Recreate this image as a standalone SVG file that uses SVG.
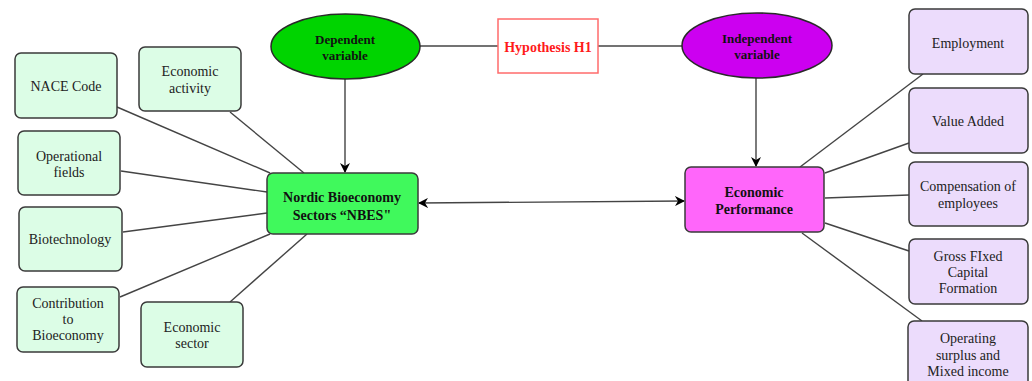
<svg xmlns="http://www.w3.org/2000/svg" width="1032" height="381" viewBox="0 0 1032 381">
<defs>
<style>
.lbox{fill:#dcfde6;stroke:#3a3a3a;stroke-width:1.5}
.rbox{fill:#ecdcfc;stroke:#3a3a3a;stroke-width:1.5}
.t{font-family:"Liberation Serif",serif;font-size:14px;fill:#222;text-anchor:middle}
.b{font-family:"Liberation Serif",serif;font-size:14px;font-weight:bold;fill:#111;text-anchor:middle}
.e{font-family:"Liberation Serif",serif;font-size:13px;font-weight:bold;fill:#111;text-anchor:middle}
.c{stroke:#444;stroke-width:1.4;fill:none}
</style>
<marker id="ah" viewBox="0 0 10 10" refX="9" refY="5" markerWidth="10" markerHeight="10" markerUnits="userSpaceOnUse" orient="auto-start-reverse">
<path d="M0,0 L10,5 L0,10 L3,5 Z" fill="#000"/>
</marker>
</defs>
<rect width="1032" height="381" fill="#fff"/>
<g id="connectors">
<line class="c" x1="117" y1="107" x2="270" y2="173"/>
<line class="c" x1="230" y1="112" x2="304" y2="173"/>
<line class="c" x1="121" y1="171" x2="267" y2="192"/>
<line class="c" x1="123" y1="232" x2="267" y2="213"/>
<line class="c" x1="120" y1="297" x2="270" y2="234"/>
<line class="c" x1="230" y1="302" x2="307" y2="234"/>
<line class="c" x1="345" y1="79" x2="345" y2="172" marker-end="url(#ah)"/>
<line class="c" x1="756" y1="78" x2="756" y2="166" marker-end="url(#ah)"/>
<line class="c" x1="420" y1="46" x2="498" y2="46"/>
<line class="c" x1="598" y1="46" x2="683" y2="46"/>
<line class="c" x1="419" y1="203" x2="684" y2="201" marker-start="url(#ah)" marker-end="url(#ah)"/>
<line class="c" x1="923" y1="74" x2="800" y2="167"/>
<line class="c" x1="909" y1="143" x2="825" y2="173"/>
<line class="c" x1="909" y1="195" x2="825" y2="198"/>
<line class="c" x1="909" y1="251" x2="825" y2="223"/>
<line class="c" x1="922" y1="321" x2="802" y2="233"/>
</g>
<g id="nace"><rect class="lbox" x="15" y="53" width="102" height="65" rx="6"/><text class="t" x="66" y="91">NACE Code</text></g>
<g id="econ-activity"><rect class="lbox" x="139" y="47" width="102" height="64" rx="6"/><text class="t" x="190" y="76">Economic</text><text class="t" x="190" y="93">activity</text></g>
<g id="operational"><rect class="lbox" x="18" y="131" width="102" height="64" rx="6"/><text class="t" x="69" y="161">Operational</text><text class="t" x="69" y="177">fields</text></g>
<g id="biotech"><rect class="lbox" x="19" y="207" width="103" height="64" rx="6"/><text class="t" x="70" y="244">Biotechnology</text></g>
<g id="contribution"><rect class="lbox" x="17" y="287" width="102" height="65" rx="6"/><text class="t" x="68" y="308">Contribution</text><text class="t" x="68" y="324">to</text><text class="t" x="68" y="340">Bioeconomy</text></g>
<g id="econ-sector"><rect class="lbox" x="141" y="302" width="102" height="65" rx="6"/><text class="t" x="192" y="332">Economic</text><text class="t" x="192" y="348">sector</text></g>
<g id="nbes"><rect x="267" y="173" width="151" height="61" rx="6" fill="#40f95c" stroke="#3a3a3a" stroke-width="1.5"/><text class="b" x="342" y="202">Nordic Bioeconomy</text><text class="b" x="342" y="220">Sectors “NBES"</text></g>
<g id="dependent"><ellipse cx="345.5" cy="46.5" rx="74.5" ry="32.5" fill="#00d400" stroke="#2a2a2a" stroke-width="1.5"/><text class="e" x="345" y="44">Dependent</text><text class="e" x="345" y="60">variable</text></g>
<g id="hypothesis"><rect x="498" y="19" width="100" height="54" fill="#fff" stroke="#ff6b6b" stroke-width="1.5"/><text class="b" x="548" y="52" style="fill:#ff1a1a">Hypothesis H1</text></g>
<g id="independent"><ellipse cx="757" cy="45.5" rx="75" ry="32.5" fill="#cc00f0" stroke="#2a2a2a" stroke-width="1.5"/><text class="e" x="757" y="43">Independent</text><text class="e" x="757" y="59">variable</text></g>
<g id="econ-performance"><rect x="685" y="167" width="139" height="65" rx="6" fill="#ff66fa" stroke="#3a3a3a" stroke-width="1.5"/><text class="b" x="754" y="197">Economic</text><text class="b" x="754" y="214">Performance</text></g>
<g id="employment"><rect class="rbox" x="909" y="9" width="119" height="65" rx="6"/><text class="t" x="968" y="48">Employment</text></g>
<g id="value-added"><rect class="rbox" x="909" y="88" width="119" height="65" rx="6"/><text class="t" x="968" y="126">Value Added</text></g>
<g id="compensation"><rect class="rbox" x="909" y="162" width="119" height="64" rx="6"/><text class="t" x="968" y="191">Compensation of</text><text class="t" x="968" y="208">employees</text></g>
<g id="gfcf"><rect class="rbox" x="909" y="239" width="119" height="65" rx="6"/><text class="t" x="968" y="261">Gross FIxed</text><text class="t" x="968" y="277">Capital</text><text class="t" x="968" y="293">Formation</text></g>
<g id="operating"><rect class="rbox" x="908" y="321" width="120" height="67" rx="6"/><text class="t" x="968" y="343">Operating</text><text class="t" x="968" y="360">surplus and</text><text class="t" x="968" y="376">Mixed income</text></g>
</svg>
